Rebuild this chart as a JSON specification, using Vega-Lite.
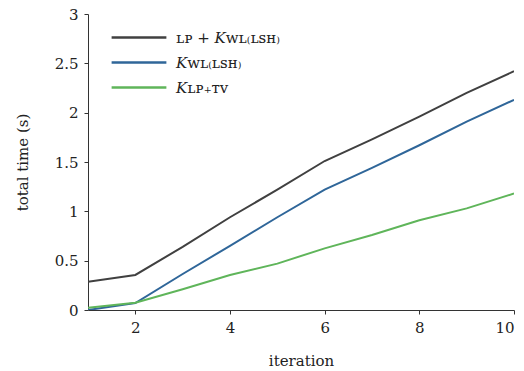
{
  "$schema": "https://vega.github.io/schema/vega-lite/v6.json",
  "width": 426,
  "height": 296,
  "autosize": {"type": "none"},
  "padding": {"left": 88, "top": 14, "right": 10, "bottom": 61},
  "background": "white",
  "config": {
    "view": {"stroke": null},
    "font": "DejaVu Serif",
    "axis": {"domainColor": "#333333", "tickColor": "#333333", "labelColor": "#222222", "titleColor": "#222222", "grid": false, "labelFont": "DejaVu Serif", "titleFont": "DejaVu Serif", "titleFontWeight": "normal", "labelFontSize": 15, "titleFontSize": 15, "tickSize": 4}
  },
  "data": {
    "values": [
      {"iteration": 1, "time": 0.287, "series": "s1"},
      {"iteration": 2, "time": 0.355, "series": "s1"},
      {"iteration": 3, "time": 0.64, "series": "s1"},
      {"iteration": 4, "time": 0.94, "series": "s1"},
      {"iteration": 5, "time": 1.22, "series": "s1"},
      {"iteration": 6, "time": 1.51, "series": "s1"},
      {"iteration": 7, "time": 1.73, "series": "s1"},
      {"iteration": 8, "time": 1.96, "series": "s1"},
      {"iteration": 9, "time": 2.2, "series": "s1"},
      {"iteration": 10, "time": 2.42, "series": "s1"},
      {"iteration": 1, "time": 0.0, "series": "s2"},
      {"iteration": 2, "time": 0.07, "series": "s2"},
      {"iteration": 3, "time": 0.365, "series": "s2"},
      {"iteration": 4, "time": 0.65, "series": "s2"},
      {"iteration": 5, "time": 0.94, "series": "s2"},
      {"iteration": 6, "time": 1.22, "series": "s2"},
      {"iteration": 7, "time": 1.44, "series": "s2"},
      {"iteration": 8, "time": 1.67, "series": "s2"},
      {"iteration": 9, "time": 1.91, "series": "s2"},
      {"iteration": 10, "time": 2.13, "series": "s2"},
      {"iteration": 1, "time": 0.023, "series": "s3"},
      {"iteration": 2, "time": 0.074, "series": "s3"},
      {"iteration": 3, "time": 0.21, "series": "s3"},
      {"iteration": 4, "time": 0.355, "series": "s3"},
      {"iteration": 5, "time": 0.47, "series": "s3"},
      {"iteration": 6, "time": 0.625, "series": "s3"},
      {"iteration": 7, "time": 0.76, "series": "s3"},
      {"iteration": 8, "time": 0.91, "series": "s3"},
      {"iteration": 9, "time": 1.03, "series": "s3"},
      {"iteration": 10, "time": 1.18, "series": "s3"}
    ]
  },
  "mark": {"type": "line", "strokeWidth": 2, "clip": true},
  "encoding": {
    "x": {"field": "iteration", "type": "quantitative", "scale": {"domain": [1, 10], "nice": false, "zero": false}, "axis": {"values": [2, 4, 6, 8, 10], "title": "iteration", "titlePadding": 18, "labelPadding": 6}},
    "y": {"field": "time", "type": "quantitative", "scale": {"domain": [0, 3], "nice": false}, "axis": {"values": [0, 0.5, 1, 1.5, 2, 2.5, 3], "format": "~g", "title": "total time (s)", "titlePadding": 24, "labelPadding": 6}},
    "color": {
      "field": "series", "type": "nominal",
      "scale": {"domain": ["s1", "s2", "s3"], "range": ["#404040", "#2f6699", "#5fb55a"]},
      "legend": {
        "title": null, "orient": "none", "legendX": 22, "legendY": 14, "padding": 0,
        "symbolType": "stroke", "symbolSize": 3000, "symbolStrokeWidth": 2.5,
        "clipHeight": 19, "rowPadding": 6,
        "labelFont": "DejaVu Serif", "labelFontSize": 15, "labelColor": "#222222",
        "labelOffset": 8,
        "labelExpr": "datum.value == 's1' ? 'ʟᴘ + 𝐾ᴡʟ₍ʟꜱʜ₎' : datum.value == 's2' ? '𝐾ᴡʟ₍ʟꜱʜ₎' : '𝐾ʟᴘ₊ᴛᴠ'"
      }
    }
  }
}
